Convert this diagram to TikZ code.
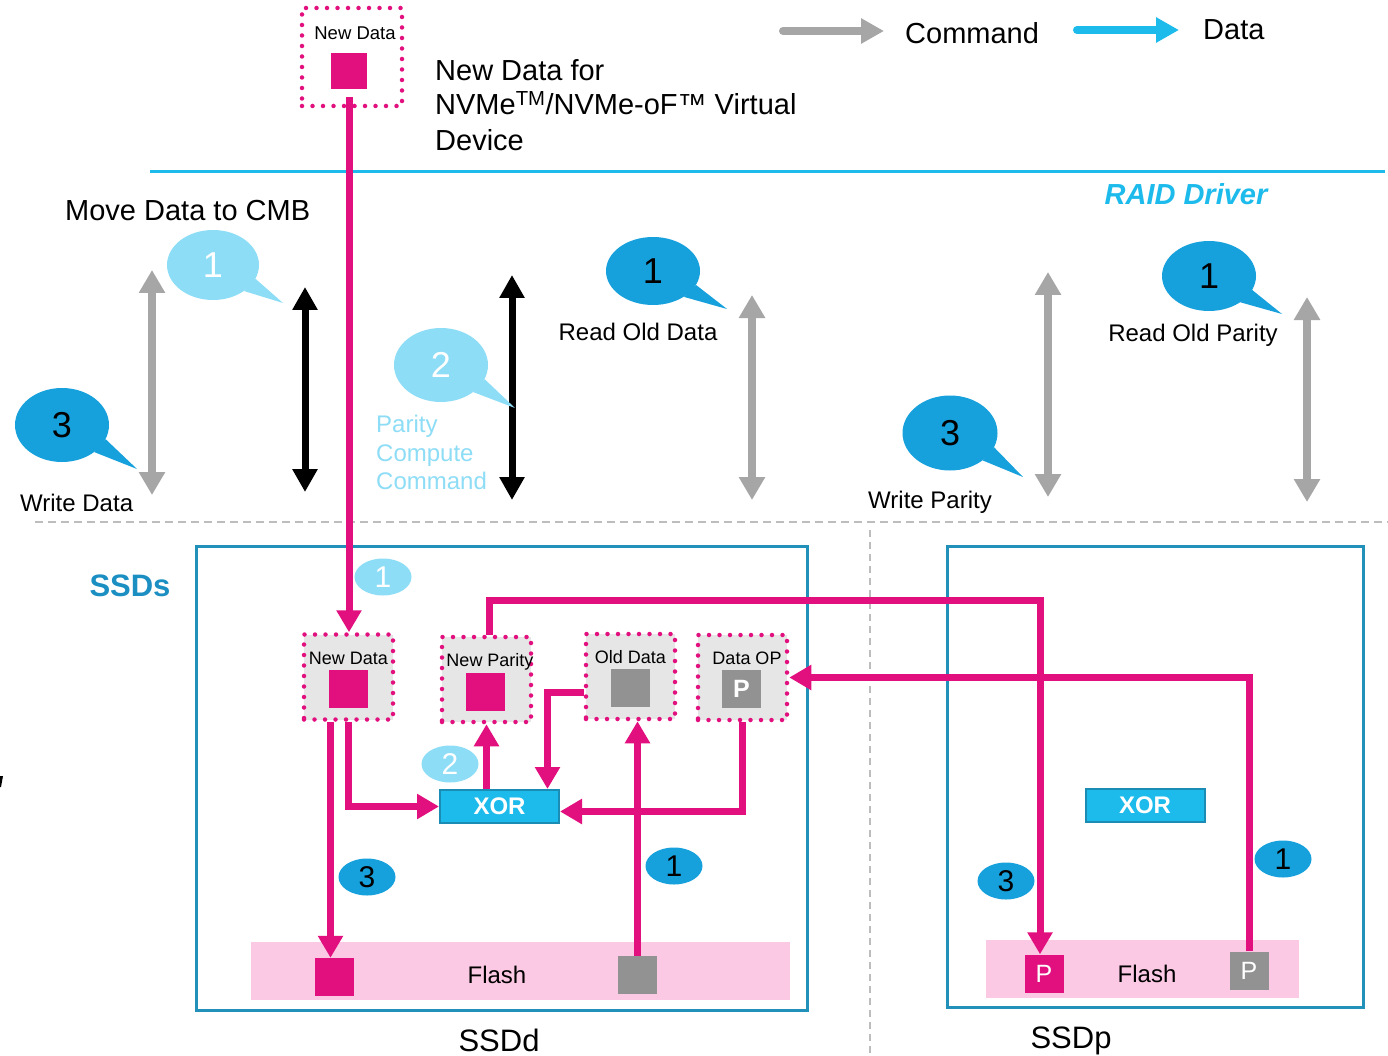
\documentclass[tikz,border=0pt]{standalone}
\usepackage{fontspec}
\setmainfont{Liberation Sans}
\usetikzlibrary{arrows.meta,shapes.geometric,calc}

\definecolor{mag}{HTML}{E2107E}
\definecolor{dblue}{HTML}{16A0DC}
\definecolor{lblue}{HTML}{8EDDF6}
\definecolor{cyanx}{HTML}{1CBBEC}
\definecolor{xorborder}{HTML}{1B8DB5}
\definecolor{ssdline}{HTML}{2191B9}
\definecolor{ssdtext}{HTML}{1B8EC2}
\definecolor{garrow}{HTML}{A6A6A6}
\definecolor{sqgray}{HTML}{929292}
\definecolor{boxgray}{HTML}{E6E6E6}
\definecolor{flashpink}{HTML}{FBC9E3}
\definecolor{sepgray}{HTML}{BDBDBD}

\newcommand\myfs[1]{\fontsize{#1}{#1}\selectfont}

\tikzset{
  lbl/.style={inner sep=0pt, anchor=base},
  lblw/.style={inner sep=0pt, anchor=base west},
  dotbox/.style={draw=mag, line width=4.5pt, dash pattern=on 0pt off 10.5pt,
    line cap=round, fill=boxgray, minimum width=89pt, minimum height=85pt, inner sep=0pt},
  sq/.style={minimum width=39pt, minimum height=38pt, inner sep=0pt},
  ssd/.style={draw=ssdline, line width=3pt, inner sep=0pt},
  flash/.style={fill=flashpink, inner sep=0pt},
  xorbox/.style={fill=cyanx, draw=xorborder, line width=2pt, minimum width=119pt,
    minimum height=33pt, inner sep=0pt, text=white, font=\myfs{24pt}\bfseries},
  marrow/.style={draw=mag, line width=7pt, -{Triangle[width=24pt,length=22pt]}},
  gdbl/.style={draw=garrow, line width=8.5pt,
    {Triangle[width=25pt,length=23pt]}-{Triangle[width=25pt,length=23pt]}},
  kdbl/.style={draw=black, line width=7pt,
    {Triangle[width=24pt,length=23pt]}-{Triangle[width=24pt,length=23pt]}},
  bubD/.style={ellipse, fill=dblue, inner sep=0pt, text=black, font=\myfs{36pt}},
  bubL/.style={ellipse, fill=lblue, inner sep=0pt, text=white, font=\myfs{36pt}},
  tagD/.style={ellipse, fill=dblue, inner sep=0pt, text=black, font=\myfs{30pt},
    minimum width=57pt, minimum height=37pt},
  tagL/.style={ellipse, fill=lblue, inner sep=0pt, text=white, font=\myfs{30pt},
    minimum width=57pt, minimum height=37pt},
}

\begin{document}
\begin{tikzpicture}[x=1pt,y=-1pt]
\useasboundingbox (0,0) rectangle (1388,1056);
\fill[white] (0,0) rectangle (1388,1056);

% ---------- legend ----------
\coordinate (lc1) at (783,31);
\coordinate (lc2) at (884,31);
\draw[draw=garrow, line width=8pt, line cap=round, -{Triangle[width=24pt,length=23pt]}] (lc1) -- (lc2);
\node[lblw, font=\myfs{29pt}] (lcmd) at (905,43.5) {Command};
\coordinate (ld1) at (1077,30);
\coordinate (ld2) at (1179,30);
\draw[draw=cyanx, line width=8pt, line cap=round, -{Triangle[width=24pt,length=23pt]}] (ld1) -- (ld2);
\node[lblw, font=\myfs{29pt}] (ldat) at (1203,39.5) {Data};

% ---------- host side ----------
\node[lblw, font=\myfs{29pt}] (hd1) at (435,80.5) {New Data for};
\node[lblw, font=\myfs{29pt}] (hd2) at (435,114.5) {NVMe\textsuperscript{TM}/NVMe-oF™ Virtual};
\node[lblw, font=\myfs{29pt}] (hd3) at (435,150.5) {Device};

\coordinate (rl1) at (150,172);
\coordinate (rl2) at (1385,172);
\draw[cyanx, line width=3pt] (rl1) -- (rl2);
\node[lbl, font=\myfs{29pt}\bfseries\itshape, text=cyanx] (raid) at (1186,204.5) {RAID Driver};

\coordinate (sep1) at (35,522);
\coordinate (sep2) at (1388,522);
\draw[sepgray, line width=2pt, dash pattern=on 8pt off 5pt] (sep1) -- (sep2);
\coordinate (vs1) at (870,530);
\coordinate (vs2) at (870,1056);
\draw[sepgray, line width=1.5pt, dash pattern=on 7pt off 5pt] (vs1) -- (vs2);

% stray glyph stroke at the left edge
\fill[black] (0,776) -- (3,776) -- (1,787) -- (0,787) -- cycle;

% ---------- command arrows ----------
\coordinate (g1a) at (152,270);  \coordinate (g1b) at (152,495);
\coordinate (g2a) at (752,295);  \coordinate (g2b) at (752,500);
\coordinate (g3a) at (1048,272); \coordinate (g3b) at (1048,497);
\coordinate (g4a) at (1307,297); \coordinate (g4b) at (1307,502);
\draw[gdbl] (g1a) -- (g1b);
\draw[gdbl] (g2a) -- (g2b);
\draw[gdbl] (g3a) -- (g3b);
\draw[gdbl] (g4a) -- (g4b);
\coordinate (k1a) at (305,287);  \coordinate (k1b) at (305,492);
\coordinate (k2a) at (512,275);  \coordinate (k2b) at (512,500);
\draw[kdbl] (k1a) -- (k1b);
\draw[kdbl] (k2a) -- (k2b);

% ---------- step labels ----------
\node[lblw, font=\myfs{29pt}] (mvcmb) at (65,220.5) {Move Data to CMB};
\node[lbl, font=\myfs{24pt}] (rod) at (638,340.6) {Read Old Data};
\node[lbl, font=\myfs{24pt}] (rop) at (1193,341.6) {Read Old Parity};
\node[lblw, font=\myfs{24pt}] (wd) at (20,511.6) {Write Data};
\node[lblw, font=\myfs{24pt}] (wp) at (868,508.6) {Write Parity};
\node[lblw, font=\myfs{24pt}, text=lblue] (pc1) at (376,432) {Parity};
\node[lblw, font=\myfs{24pt}, text=lblue] (pc2) at (376,461) {Compute};
\node[lblw, font=\myfs{24pt}, text=lblue] (pc3) at (376,489) {Command};

% ---------- speech bubbles ----------
\node[bubL, minimum width=92pt, minimum height=70pt] (b1m) at (213,265) {1};
\coordinate (b1mt) at (283,303);
\fill[lblue] (b1m.-18) -- (b1mt) -- (b1m.-40) -- cycle;

\node[bubD, minimum width=94pt, minimum height=74pt] (b3w) at (62,425) {3};
\coordinate (b3wt) at (137,469);
\fill[dblue] (b3w.-18) -- (b3wt) -- (b3w.-40) -- cycle;

\node[bubL, minimum width=94pt, minimum height=74pt] (b2p) at (441,365) {2};
\coordinate (b2pt) at (515,408);
\fill[lblue] (b2p.-18) -- (b2pt) -- (b2p.-40) -- cycle;

\node[bubD, minimum width=94pt, minimum height=68pt] (b1d) at (653,271) {1};
\coordinate (b1dt) at (727,309);
\fill[dblue] (b1d.-18) -- (b1dt) -- (b1d.-40) -- cycle;

\node[bubD, minimum width=94pt, minimum height=70pt] (b1p) at (1209,276) {1};
\coordinate (b1pt) at (1282,314);
\fill[dblue] (b1p.-18) -- (b1pt) -- (b1p.-40) -- cycle;

\node[bubD, minimum width=95pt, minimum height=75pt] (b3p) at (950,433) {3};
\coordinate (b3pt) at (1023,477);
\fill[dblue] (b3p.-18) -- (b3pt) -- (b3p.-40) -- cycle;

% ---------- new data buffer ----------
\node[dotbox, fill=white, minimum width=100pt, minimum height=98pt] (tbox) at (352,57) {};
\node[lbl, font=\myfs{18.5pt}] (tlab) at (355,39.5) {New Data};
\node[sq, fill=mag, minimum width=36pt, minimum height=36pt] (tsq) at (349,71) {};

% ---------- SSDs ----------
\node[lbl, font=\myfs{31pt}\bfseries, text=ssdtext] (ssds) at (130,596) {SSDs};
\node[ssd, minimum width=611pt, minimum height=464pt] (ssdd) at (501.5,778) {};
\node[ssd, minimum width=416pt, minimum height=461pt] (ssdp) at (1155,776.5) {};
\node[lbl, font=\myfs{31pt}] (ssddl) at (499,1051) {SSDd};
\node[lbl, font=\myfs{31pt}] (ssdpl) at (1071,1048) {SSDp};

% flash
\node[flash, minimum width=539pt, minimum height=58pt] (fld) at (520.5,971) {};
\node[lbl, font=\myfs{24pt}] (fldl) at (497,983.6) {Flash};
\node[sq, fill=mag] (sqA) at (334.5,977) {};
\node[sq, fill=sqgray] (sqB) at (637.5,975) {};

\node[flash, minimum width=313pt, minimum height=58pt] (flp) at (1142.5,969) {};
\node[lbl, font=\myfs{24pt}] (flpl) at (1147,982) {Flash};
\node[sq, fill=mag, text=white, font=\myfs{25pt}] (pP) at (1044,973.5) {P};
\node[sq, fill=sqgray, text=white, font=\myfs{25pt}] (pG) at (1249,970.5) {P};

% controller memory buffers
\node[dotbox] (nd) at (348.5,677) {};
\node[lbl, font=\myfs{18pt}] (ndl) at (348.5,664.5) {New Data};
\node[sq, fill=mag] (ndsq) at (348.5,689) {};

\node[dotbox] (np) at (486.5,679.5) {};
\node[lbl, font=\myfs{18pt}] (npl) at (490,666.5) {New Parity};
\node[sq, fill=mag] (npsq) at (485.5,691.5) {};

\node[dotbox] (od) at (630.5,676.5) {};
\node[lbl, font=\myfs{18pt}] (odl) at (630.5,663.5) {Old Data};
\node[sq, fill=sqgray] (odsq) at (630.5,687.5) {};

\node[dotbox] (op) at (742.5,677.5) {};
\node[lbl, font=\myfs{18pt}] (opl) at (747,664.5) {Data OP};
\node[sq, fill=sqgray, text=white, font=\myfs{25pt}\bfseries] (opsq) at (741.5,688.5) {P};

% XOR engines
\node[xorbox] (xor) at (499.5,806.5) {XOR};
\node[xorbox] (xorp) at (1145,805.5) {XOR};

% ---------- data movements ----------
\draw[marrow] ($(tsq.south)+(0,8)$) -- (tsq.south |- nd.north);
\draw[marrow] ($(sqA.north |- nd.south)+(-4,0)$) -- ($(sqA.north)+(-4,0)$);
\draw[marrow] (nd.south) |- (xor.west);
\draw[marrow] (np.south |- xor.north) -- (np.south);
\draw[marrow] ($(od.west)+(0,16)$) -| ($(xor.north)+(48,0)$);
\draw[marrow] (op.south) |- ($(xor.east)+(0,5)$);
\draw[marrow] (sqB.north) -- (sqB.north |- od.south);
\draw[marrow] ($(np.north)+(3,0)$) -- ++(0,-34) -| ($(pP.north)+(-4,0)$);
\draw[marrow] (pG.north) |- (op.east);

% step tags
\node[tagL] (t1m) at (383,577) {1};
\node[tagL] (t2x) at (450,764) {2};
\node[tagD] (t3d) at (367,877) {3};
\node[tagD] (t1d) at (674,866) {1};
\node[tagD] (t3p) at (1006,881) {3};
\node[tagD] (t1p) at (1283,859) {1};
\end{tikzpicture}
\end{document}
